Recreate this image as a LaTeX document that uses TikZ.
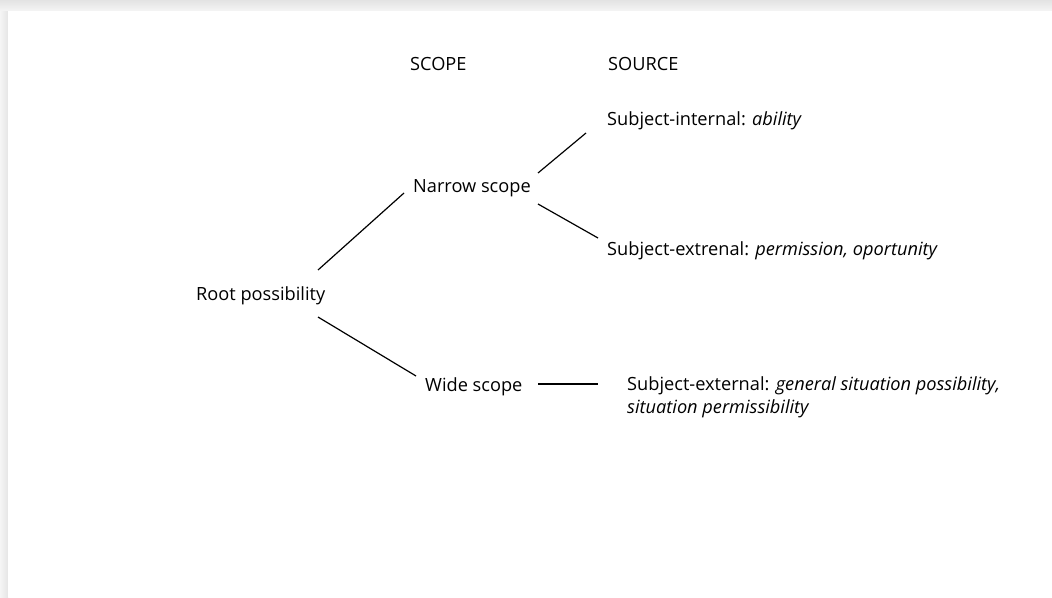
\documentclass[tikz,border=0pt]{standalone}
\usepackage{fontspec}
\setmainfont{Open Sans}
\begin{document}
\begin{tikzpicture}[x=1pt,y=-1pt,
  lbl/.style={anchor=base west,inner sep=0pt,font=\fontsize{18.2}{22.5}\selectfont},
  link/.style={draw=black,line width=1.2pt}]
\useasboundingbox (0,0) rectangle (1052,597);
% page shadow
\shade[top color=gray!22,bottom color=gray!8] (0,0) rectangle (1052,11);
\shade[left color=gray!8,right color=gray!20] (0,11) rectangle (8,597);
\fill[white] (8,11) rectangle (1052,597);
% column headings
\node[lbl] (hscope) at (410,70) {SCOPE};
\node[lbl] (hsource) at (608,70) {SOURCE};
% tree
\node[lbl] (root) at (196,300) {Root possibility};
\node[lbl] (narrow) at (413,192) {Narrow scope};
\node[lbl] (wide) at (425,391) {Wide scope};
\node[lbl] (internal) at (607,125) {Subject-internal: \textit{ability}};
\node[lbl] (external) at (607,255) {Subject-extrenal: \textit{permission, oportunity}};
\node[lbl,align=left,anchor=north west] (situation) at (627,376.5) {Subject-external: \textit{general situation possibility,}\\\textit{situation permissibility}};
% connectors
\draw[link] ([shift={(122,-30)}]root.base west) -- ([shift={(-9,1)}]narrow.base west);
\draw[link] ([shift={(122,17)}]root.base west) -- ([shift={(-9,-15)}]wide.base west);
\draw[link] ([shift={(125,-19)}]narrow.base west) -- ([shift={(-21,8)}]internal.base west);
\draw[link] ([shift={(125,12)}]narrow.base west) -- ([shift={(-9,-17)}]external.base west);
\draw[link] ([shift={(113,-7)}]wide.base west) -- ([shift={(-29,7.5)}]situation.north west);
\end{tikzpicture}
\end{document}
